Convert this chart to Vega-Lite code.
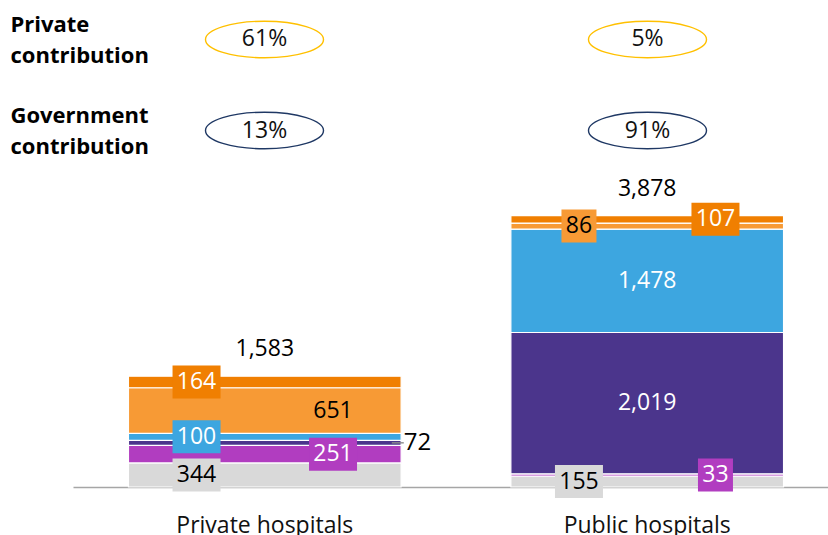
{
  "$schema": "https://vega.github.io/schema/vega-lite/v6.json",
  "autosize": {"type": "pad"},
  "padding": {"left": 10, "top": 0, "right": 0, "bottom": 0},
  "background": "white",
  "bounds": "flush",
  "spacing": 0,
  "config": {"view": {"stroke": null}, "font": "Open Sans"},
  "datasets": {
    "segments": [
      {"hospital": "Private hospitals", "k": 1, "seg": "Category 1", "v": 344, "side": "left"},
      {"hospital": "Private hospitals", "k": 2, "seg": "Category 2", "v": 251, "side": "right"},
      {"hospital": "Private hospitals", "k": 3, "seg": "Category 3", "v": 72, "side": "out"},
      {"hospital": "Private hospitals", "k": 4, "seg": "Category 4", "v": 100, "side": "left"},
      {"hospital": "Private hospitals", "k": 5, "seg": "Category 5", "v": 651, "side": "right"},
      {"hospital": "Private hospitals", "k": 6, "seg": "Category 6", "v": 164, "side": "left"},
      {"hospital": "Public hospitals", "k": 1, "seg": "Category 1", "v": 155, "side": "left"},
      {"hospital": "Public hospitals", "k": 2, "seg": "Category 2", "v": 33, "side": "right"},
      {"hospital": "Public hospitals", "k": 3, "seg": "Category 3", "v": 2019, "side": "center"},
      {"hospital": "Public hospitals", "k": 4, "seg": "Category 4", "v": 1478, "side": "center"},
      {"hospital": "Public hospitals", "k": 5, "seg": "Category 5", "v": 86, "side": "left"},
      {"hospital": "Public hospitals", "k": 6, "seg": "Category 6", "v": 107, "side": "right"}
    ],
    "totals": [
      {"hospital": "Private hospitals", "total": 1583},
      {"hospital": "Public hospitals", "total": 3878}
    ],
    "shares": [
      {"hospital": "Private hospitals", "row": "Private contribution", "pct": 0.61},
      {"hospital": "Public hospitals", "row": "Private contribution", "pct": 0.05},
      {"hospital": "Private hospitals", "row": "Government contribution", "pct": 0.13},
      {"hospital": "Public hospitals", "row": "Government contribution", "pct": 0.91}
    ]
  },
  "vconcat": [
    {
      "width": 766,
      "height": 170,
      "data": {"name": "shares"},
      "encoding": {
        "x": {"field": "hospital", "type": "nominal", "scale": {"domain": ["Private hospitals", "Public hospitals"], "paddingInner": 0.287, "paddingOuter": 0.145}, "axis": null},
        "y": {"field": "row", "type": "nominal", "scale": {"type": "point", "domain": ["Private contribution", "Government contribution"], "padding": 0.434},
          "axis": {"title": null, "domain": false, "ticks": false, "tickSize": 0, "grid": false, "labelPadding": 63, "labelOffset": -15, "labelAlign": "left", "labelBaseline": "middle", "labelFont": "Open Sans", "labelFontWeight": "bold", "labelFontSize": 22, "labelColor": "#000000", "labelLineHeight": 31, "labelLimit": 300, "labelExpr": "split(datum.label, ' ')"}}
      },
      "layer": [
        {
          "mark": {"type": "point", "shape": "M-1,0A1,0.31,0,1,1,1,0A1,0.31,0,1,1,-1,0Z", "size": 13924, "filled": false, "strokeWidth": 1.4, "opacity": 1},
          "encoding": {
            "stroke": {"field": "row", "type": "nominal", "scale": {"domain": ["Private contribution", "Government contribution"], "range": ["#FFC000", "#1F3864"]}, "legend": null}
          }
        },
        {
          "mark": {"type": "text", "fontSize": 23, "color": "#111111"},
          "encoding": {"text": {"field": "pct", "type": "quantitative", "format": ".0%"}}
        }
      ]
    },
    {
      "width": 766,
      "height": 317,
      "encoding": {
        "x": {"field": "hospital", "type": "nominal", "scale": {"domain": ["Private hospitals", "Public hospitals"], "paddingInner": 0.287, "paddingOuter": 0.145},
          "axis": {"title": null, "domainColor": "#A6A6A6", "domainWidth": 1.3, "ticks": false, "labelAngle": 0, "labelFontSize": 23, "labelPadding": 27, "labelColor": "#111111", "labelFont": "Open Sans"}}
      },
      "layer": [
        {
          "data": {"name": "segments"},
          "transform": [
            {"stack": "v", "groupby": ["hospital"], "sort": [{"field": "k", "order": "ascending"}], "as": ["y0", "y1"]},
            {"calculate": "(datum.y0 + datum.y1) / 2", "as": "mid"},
            {"calculate": "datum.side + (datum.v < 100 ? '2' : '3')", "as": "box"}
          ],
          "layer": [
            {
              "mark": {"type": "bar", "stroke": "white", "strokeWidth": 1.2},
              "encoding": {
                "y": {"field": "y0", "type": "quantitative", "scale": {"domain": [0, 4529], "nice": false}, "axis": null},
                "y2": {"field": "y1"},
                "color": {"field": "seg", "type": "nominal", "scale": {"domain": ["Category 1", "Category 2", "Category 3", "Category 4", "Category 5", "Category 6"], "range": ["#D9D9D9", "#B13DC0", "#4B358C", "#3DA6E0", "#F79A35", "#F07F01"]}, "legend": null}
              }
            },
            {
              "transform": [{"filter": "datum.v < 400 && (datum.side == 'left' || datum.side == 'right')"}],
              "mark": {"type": "point", "filled": true, "size": 4, "opacity": 1, "strokeWidth": 0},
              "encoding": {
                "y": {"field": "mid", "type": "quantitative", "scale": {"domain": [0, 4529], "nice": false}, "axis": null},
                "shape": {"field": "box", "type": "nominal", "scale": {"domain": ["left3", "right3", "left2", "right2"], "range": ["M-92.25,-16.5H-44.25V16.5H-92.25Z", "M44.25,-16.5H92.25V16.5H44.25Z", "M-85.75,-16.5H-50.75V16.5H-85.75Z", "M50.75,-16.5H85.75V16.5H50.75Z"]}, "legend": null},
                "color": {"field": "seg", "type": "nominal", "legend": null}
              }
            },
            {
              "transform": [{"filter": "datum.side == 'left'"}],
              "mark": {"type": "text", "fontSize": 23, "dx": -68.25},
              "encoding": {
                "y": {"field": "mid", "type": "quantitative", "scale": {"domain": [0, 4529], "nice": false}, "axis": null},
                "text": {"field": "v", "type": "quantitative", "format": ","},
                "color": {"condition": {"test": "datum.seg == 'Category 1' || datum.seg == 'Category 5'", "value": "#000000"}, "value": "#FFFFFF"}
              }
            },
            {
              "transform": [{"filter": "datum.side == 'center'"}],
              "mark": {"type": "text", "fontSize": 23},
              "encoding": {
                "y": {"field": "mid", "type": "quantitative", "scale": {"domain": [0, 4529], "nice": false}, "axis": null},
                "text": {"field": "v", "type": "quantitative", "format": ","},
                "color": {"condition": {"test": "datum.seg == 'Category 1' || datum.seg == 'Category 5'", "value": "#000000"}, "value": "#FFFFFF"}
              }
            },
            {
              "transform": [{"filter": "datum.side == 'right'"}],
              "mark": {"type": "text", "fontSize": 23, "dx": 68.25},
              "encoding": {
                "y": {"field": "mid", "type": "quantitative", "scale": {"domain": [0, 4529], "nice": false}, "axis": null},
                "text": {"field": "v", "type": "quantitative", "format": ","},
                "color": {"condition": {"test": "datum.seg == 'Category 1' || datum.seg == 'Category 5'", "value": "#000000"}, "value": "#FFFFFF"}
              }
            },
            {
              "transform": [{"filter": "datum.side == 'out'"}],
              "mark": {"type": "point", "shape": "M127,0H139", "size": 4, "filled": false, "stroke": "#8C8C8C", "strokeWidth": 1.4, "opacity": 1},
              "encoding": {
                "y": {"field": "mid", "type": "quantitative", "scale": {"domain": [0, 4529], "nice": false}, "axis": null}
              }
            },
            {
              "transform": [{"filter": "datum.side == 'out'"}],
              "mark": {"type": "text", "fontSize": 24, "align": "left", "dx": 139, "color": "#000000"},
              "encoding": {
                "y": {"field": "mid", "type": "quantitative", "scale": {"domain": [0, 4529], "nice": false}, "axis": null},
                "text": {"field": "v", "type": "quantitative", "format": ","}
              }
            }
          ]
        },
        {
          "data": {"name": "totals"},
          "mark": {"type": "text", "fontSize": 23, "dy": -27, "color": "#000000"},
          "encoding": {
            "y": {"field": "total", "type": "quantitative", "scale": {"domain": [0, 4529], "nice": false}, "axis": null},
            "text": {"field": "total", "type": "quantitative", "format": ","}
          }
        }
      ]
    }
  ]
}
